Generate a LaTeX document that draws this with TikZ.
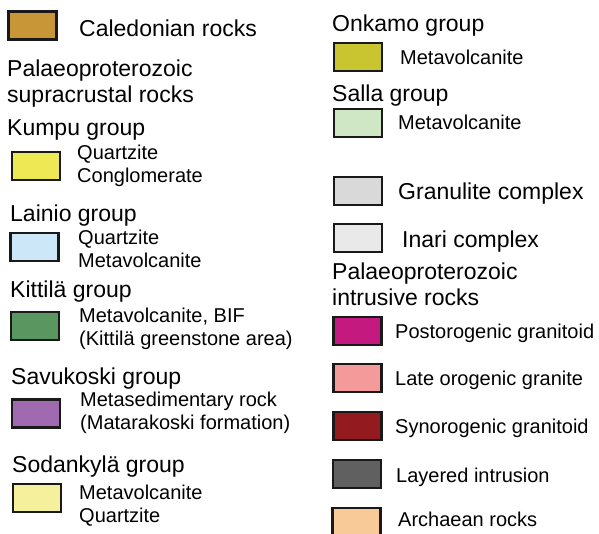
\documentclass[tikz,border=0pt]{standalone}
\usepackage{fontspec}
\setmainfont{Liberation Sans}
\usepackage{tikz}
\usetikzlibrary{positioning}

\definecolor{caledonian}{RGB}{200,150,55}
\definecolor{kumpu}{RGB}{238,232,85}
\definecolor{lainio}{RGB}{204,232,248}
\definecolor{kittila}{RGB}{90,150,95}
\definecolor{savukoski}{RGB}{160,106,176}
\definecolor{sodankyla}{RGB}{245,240,155}
\definecolor{onkamo}{RGB}{200,197,48}
\definecolor{salla}{RGB}{207,231,197}
\definecolor{granulite}{RGB}{217,217,217}
\definecolor{inari}{RGB}{233,233,233}
\definecolor{postoro}{RGB}{196,26,128}
\definecolor{lateoro}{RGB}{244,154,154}
\definecolor{synoro}{RGB}{147,26,30}
\definecolor{layered}{RGB}{96,96,96}
\definecolor{archaean}{RGB}{248,202,152}

\begin{document}
\begin{tikzpicture}[
    x=1pt, y=-1pt,
    legbox/.style={rectangle, draw=black!90, line width=2.4pt, minimum width=48pt, minimum height=28pt, inner sep=0pt},
    grouplabel/.style={anchor=base west, inner sep=0pt, align=left, font=\fontsize{23}{26}\selectfont},
    itemlabel/.style={anchor=base west, inner sep=0pt, align=left, font=\fontsize{20}{23}\selectfont}
]
\clip (0,0) rectangle (599,533);

% Left column (multi-line labels sit on their last baseline)
\node[legbox, fill=caledonian] (calbox) at (32.5, 25.5) {};
\node[grouplabel] (caltext) at (79, 36) {Caledonian rocks};

\node[grouplabel] (supratitle) at (7, 102) {Palaeoproterozoic\\supracrustal rocks};

\node[grouplabel] (kumputitle) at (7, 135) {Kumpu group};
\node[legbox, fill=kumpu] (kumpubox) at (36, 166) {};
\node[itemlabel] (kumputext) at (77, 182) {Quartzite\\Conglomerate};

\node[grouplabel] (lainiotitle) at (10, 221) {Lainio group};
\node[legbox, fill=lainio] (lainiobox) at (34.5, 247) {};
\node[itemlabel] (lainiotext) at (78, 267) {Quartzite\\Metavolcanite};

\node[grouplabel] (kittilatitle) at (10, 297) {Kittilä group};
\node[legbox, fill=kittila] (kittilabox) at (35, 326) {};
\node[itemlabel] (kittilatext) at (79, 345) {Metavolcanite, BIF\\(Kittilä greenstone area)};

\node[grouplabel] (savukoskititle) at (11, 384) {Savukoski group};
\node[legbox, fill=savukoski] (savukoskibox) at (36, 413.5) {};
\node[itemlabel] (savukoskitext) at (80, 429) {Metasedimentary rock\\(Matarakoski formation)};

\node[grouplabel] (sodankylatitle) at (12, 472) {Sodankylä group};
\node[legbox, fill=sodankyla] (sodankylabox) at (37, 498) {};
\node[itemlabel] (sodankylatext) at (79, 522) {Metavolcanite\\Quartzite};

% Right column
\node[grouplabel] (onkamotitle) at (332, 31) {Onkamo group};
\node[legbox, fill=onkamo] (onkamobox) at (358, 57) {};
\node[itemlabel] (onkamotext) at (400, 64) {Metavolcanite};

\node[grouplabel] (sallatitle) at (332, 101) {Salla group};
\node[legbox, fill=salla] (sallabox) at (358, 123) {};
\node[itemlabel] (sallatext) at (398, 129) {Metavolcanite};

\node[legbox, fill=granulite] (granulitebox) at (358, 191) {};
\node[grouplabel] (granulitetext) at (398, 199) {Granulite complex};

\node[legbox, fill=inari] (inaribox) at (358, 238) {};
\node[grouplabel] (inaritext) at (402, 247) {Inari complex};

\node[grouplabel] (intrutitle) at (332, 305) {Palaeoproterozoic\\intrusive rocks};

\node[legbox, fill=postoro] (postorobox) at (357.5, 331) {};
\node[itemlabel] (postorotext) at (395, 338) {Postorogenic granitoid};

\node[legbox, fill=lateoro] (lateorobox) at (357.5, 378) {};
\node[itemlabel] (lateorotext) at (395, 385) {Late orogenic granite};

\node[legbox, fill=synoro] (synorobox) at (357.5, 426) {};
\node[itemlabel] (synorotext) at (395, 433) {Synorogenic granitoid};

\node[legbox, fill=layered] (layeredbox) at (357, 474) {};
\node[itemlabel] (layeredtext) at (396, 482) {Layered intrusion};

\node[legbox, fill=archaean] (archaeanbox) at (356.5, 522) {};
\node[itemlabel] (archaeantext) at (398, 526) {Archaean rocks};

\end{tikzpicture}
\end{document}
